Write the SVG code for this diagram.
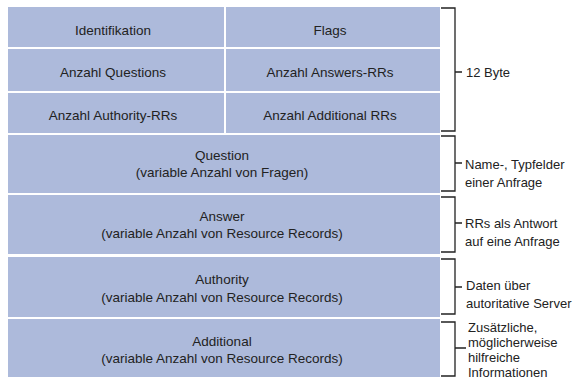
<svg xmlns="http://www.w3.org/2000/svg" width="583" height="391" viewBox="0 0 583 391">
<style>
.cell{fill:#adbadb}
.t{font-family:"Liberation Sans",Arial,sans-serif;font-size:13.5px;fill:#222;text-anchor:middle}
.n{font-family:"Liberation Sans",Arial,sans-serif;font-size:13px;fill:#222}
.b{fill:none;stroke:#222;stroke-width:1.3}
</style>
<rect width="583" height="391" fill="#fff"/>
<g id="identifikation"><rect class="cell" x="8" y="7" width="216" height="40"/><text class="t" x="113" y="35">Identifikation</text></g>
<g id="flags"><rect class="cell" x="226" y="7" width="214" height="40"/><text class="t" x="330" y="35">Flags</text></g>
<g id="anzahl-questions"><rect class="cell" x="8" y="49" width="216" height="42"/><text class="t" x="113" y="77">Anzahl Questions</text></g>
<g id="anzahl-answers"><rect class="cell" x="226" y="49" width="214" height="42"/><text class="t" x="330" y="77">Anzahl Answers-RRs</text></g>
<g id="anzahl-authority"><rect class="cell" x="8" y="93" width="216" height="40"/><text class="t" x="113" y="120">Anzahl Authority-RRs</text></g>
<g id="anzahl-additional"><rect class="cell" x="226" y="93" width="214" height="40"/><text class="t" x="330" y="120">Anzahl Additional RRs</text></g>
<g id="question"><rect class="cell" x="8" y="135" width="432" height="58"/><text class="t" x="222" y="160">Question</text><text class="t" x="222" y="177">(variable Anzahl von Fragen)</text></g>
<g id="answer"><rect class="cell" x="8" y="195" width="432" height="59"/><text class="t" x="222" y="221">Answer</text><text class="t" x="222" y="238">(variable Anzahl von Resource Records)</text></g>
<g id="authority"><rect class="cell" x="8" y="257" width="432" height="60"/><text class="t" x="222" y="284">Authority</text><text class="t" x="222" y="302">(variable Anzahl von Resource Records)</text></g>
<g id="additional"><rect class="cell" x="8" y="319" width="432" height="58"/><text class="t" x="222" y="346">Additional</text><text class="t" x="222" y="363">(variable Anzahl von Resource Records)</text></g>
<g id="connectors">
<path class="b" d="M441 8H455V131H441M455 72H462"/>
<path class="b" d="M441 136H455V191H441M455 163H462"/>
<path class="b" d="M441 197H455V252H441M455 223H462"/>
<path class="b" d="M441 259H455V314H441M455 287H462"/>
<path class="b" d="M441 322H455V376H441M455 348H466"/>
</g>
<g id="labels">
<text class="n" x="466" y="77">12 Byte</text>
<text class="n" x="465" y="169">Name-, Typfelder</text>
<text class="n" x="465" y="187">einer Anfrage</text>
<text class="n" x="465" y="228">RRs als Antwort</text>
<text class="n" x="465" y="246">auf eine Anfrage</text>
<text class="n" x="466" y="290">Daten über</text>
<text class="n" x="466" y="308">autoritative Server</text>
<text class="n" x="468" y="332">Zusätzliche,</text>
<text class="n" x="468" y="347">möglicherweise</text>
<text class="n" x="468" y="362">hilfreiche</text>
<text class="n" x="468" y="377">Informationen</text>
</g>
</svg>
